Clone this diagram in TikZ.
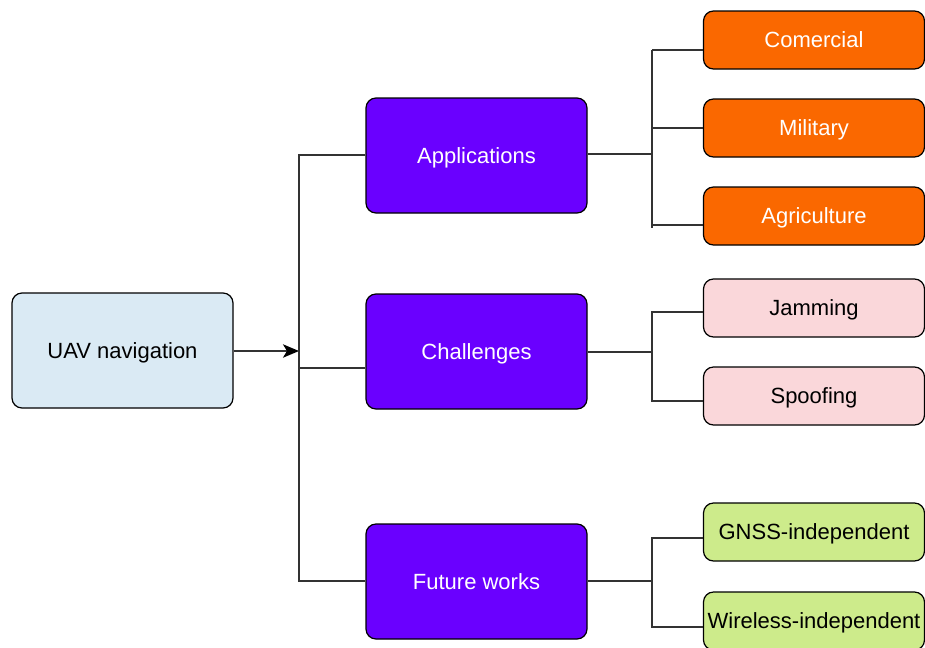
\documentclass[tikz,border=0pt]{standalone}
\usepackage{fontspec}
\setmainfont{Liberation Sans}
\usetikzlibrary{arrows.meta}
\definecolor{purp}{HTML}{6A00FF}
\definecolor{oran}{HTML}{FA6800}
\definecolor{lblue}{HTML}{DAEAF4}
\definecolor{lpink}{HTML}{FAD7DA}
\definecolor{lgreen}{HTML}{CDEB8B}
\definecolor{conn}{HTML}{333333}
\tikzset{
  box/.style={draw=black, line width=0.9pt, rounded corners=7.5pt, font=\fontsize{16.5pt}{19pt}\selectfont, inner sep=0pt, text height=11.8pt, text depth=0pt},
  bigbox/.style={box, minimum width=165.75pt, minimum height=86.25pt},
  smallbox/.style={box, minimum width=165.75pt, minimum height=43.5pt},
  link/.style={draw=conn, line width=1.5pt},
}
\begin{document}
\begin{tikzpicture}[x=0.75pt, y=-0.75pt]
\useasboundingbox (0,0) rectangle (925,647);
\fill[white] (0,0) rectangle (925,647);
% main nodes
\node[bigbox, fill=lblue] (uav) at (122.5,350.5) {UAV navigation};
\node[bigbox, fill=purp, text=white] (app) at (476.5,155.5) {Applications};
\node[bigbox, fill=purp, text=white] (ch) at (476.5,351.5) {Challenges};
\node[bigbox, fill=purp, text=white] (fw) at (476.5,581.5) {Future works};
% leaves
\node[smallbox, fill=oran, text=white] (com) at (814,40) {Comercial};
\node[smallbox, fill=oran, text=white] (mil) at (814,128) {Military};
\node[smallbox, fill=oran, text=white] (agr) at (814,216) {Agriculture};
\node[smallbox, fill=lpink] (jam) at (814,308) {Jamming};
\node[smallbox, fill=lpink] (spo) at (814,396) {Spoofing};
\node[smallbox, fill=lgreen] (gnss) at (814,532) {GNSS-independent};
\node[smallbox, fill=lgreen] (wir) at (814,621) {Wireless-independent};
% coordinates
\coordinate (arr) at (299,351);
\coordinate (t1) at (299,155);
\coordinate (t2) at (299,368);
\coordinate (t3) at (299,581);
\coordinate (a0) at (652,154);
\coordinate (a1) at (652,50);
\coordinate (a2) at (652,128);
\coordinate (a3) at (652,225);
\coordinate (a4) at (652,228);
\coordinate (c0) at (652,352);
\coordinate (c1) at (652,312);
\coordinate (c2) at (652,401);
\coordinate (f0) at (652,581);
\coordinate (f1) at (652,538);
\coordinate (f2) at (652,627);
% left connectors
\draw[link, -{Stealth[length=12pt,width=10pt,inset=3pt,color=black]}] (uav.east |- arr) -- (arr);
\draw[link] (app.west |- t1) -- (t1) -- (t3) -- (fw.west |- t3);
\draw[link] (t2) -- (ch.west |- t2);
% applications
\draw[link] (app.east |- a0) -- (a0);
\draw[link] (a1) -- (a4);
\draw[link] (a1) -- (com.west |- a1);
\draw[link] (a2) -- (mil.west |- a2);
\draw[link] (a3) -- (agr.west |- a3);
% challenges
\draw[link] (ch.east |- c0) -- (c0);
\draw[link] (jam.west |- c1) -- (c1) -- (c2) -- (spo.west |- c2);
% future works
\draw[link] (fw.east |- f0) -- (f0);
\draw[link] (gnss.west |- f1) -- (f1) -- (f2) -- (wir.west |- f2);
\end{tikzpicture}
\end{document}
